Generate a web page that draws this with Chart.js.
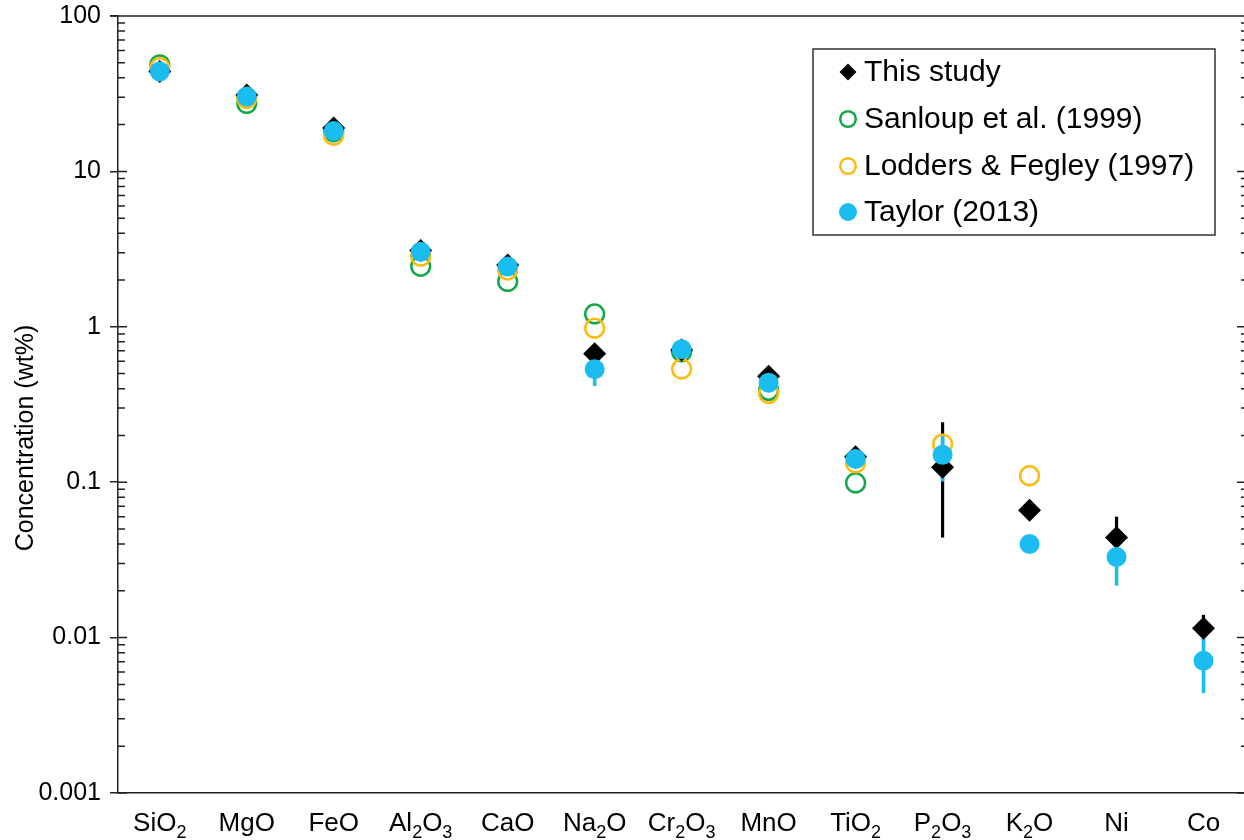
<!DOCTYPE html>
<html>
<head>
<meta charset="utf-8">
<script src="https://cdn.jsdelivr.net/npm/chart.js@4.4.0/dist/chart.umd.min.js"></script>
<style>
  html, body { margin: 0; padding: 0; background: #fff; overflow: hidden; }
  canvas { display: block; }
</style>
</head>
<body>
<canvas id="oxideChart" width="1250" height="840"></canvas>
<script>
// categories (digits are drawn as subscripts)
var oxides = ['SiO2', 'MgO', 'FeO', 'Al2O3', 'CaO', 'Na2O', 'Cr2O3', 'MnO', 'TiO2', 'P2O3', 'K2O', 'Ni', 'Co'];
var yTicks = [0.001, 0.01, 0.1, 1, 10, 100];

// wt%
var thisStudy = [44, 31, 19, 3.1, 2.5, 0.67, 0.71, 0.48, 0.146, 0.125, 0.066, 0.044, 0.0115];
var thisLow   = [null, null, null, null, null, null, null, null, null, 0.044, null, 0.033, 0.0095];
var thisHigh  = [null, null, null, null, null, null, null, null, null, 0.243, null, 0.060, 0.014];
var sanloup   = [48.5, 27.4, 18.0, 2.45, 1.96, 1.21, 0.69, 0.39, 0.099, null, null, null, null];
var lodders   = [46.5, 29.5, 17.1, 2.85, 2.32, 0.98, 0.535, 0.373, 0.133, 0.176, 0.110, null, null];
var taylor    = [44, 30.3, 18.2, 3.04, 2.44, 0.533, 0.717, 0.437, 0.141, 0.150, 0.040, 0.033, 0.0071];
var taylorLow  = [null, null, null, null, null, 0.416, null, null, null, 0.101, null, 0.0216, 0.0044];
var taylorHigh = [null, null, null, null, null, 0.642, null, null, null, 0.201, null, 0.0446, 0.0099];

var FONT = "'Liberation Sans', Arial, sans-serif";
var BLACK = '#000000', GREEN = '#12a84a', ORANGE = '#fdbb0f', BLUE = '#1bbcef';

function pts(arr) {
  var out = [];
  arr.forEach(function(v, i) { if (v != null) out.push({x: i + 1, y: v}); });
  return out;
}

// error bars under the markers
var errorBars = {
  id: 'errorBars',
  beforeDatasetsDraw: function(chart) {
    var ctx = chart.ctx, xs = chart.scales.x, ys = chart.scales.y;
    var sets = [[thisLow, thisHigh, BLACK, 3.2], [taylorLow, taylorHigh, BLUE, 3.6]];
    ctx.save();
    sets.forEach(function(s) {
      ctx.strokeStyle = s[2];
      ctx.lineWidth = s[3];
      s[0].forEach(function(lo, i) {
        if (lo == null) return;
        var x = xs.getPixelForValue(i + 1);
        ctx.beginPath();
        ctx.moveTo(x, ys.getPixelForValue(lo));
        ctx.lineTo(x, ys.getPixelForValue(s[1][i]));
        ctx.stroke();
      });
    });
    ctx.restore();
  }
};

// minor ticks, frame, subscripted labels, y title, legend box
var decor = {
  id: 'decor',
  afterDraw: function(chart) {
    var ctx = chart.ctx, xs = chart.scales.x, ys = chart.scales.y, a = chart.chartArea;
    ctx.save();
    ctx.strokeStyle = '#222';
    ctx.lineWidth = 1.5;
    ctx.beginPath();
    ctx.moveTo(a.left - 8, a.top); ctx.lineTo(a.right, a.top);
    ctx.moveTo(a.right, a.top); ctx.lineTo(a.right, a.bottom);
    for (var d = -3; d <= 2; d++) {
      var y = ys.getPixelForValue(Math.pow(10, d));
      ctx.moveTo(a.left, y); ctx.lineTo(a.left + 9, y);
      ctx.moveTo(a.right - 10, y); ctx.lineTo(a.right, y);
      if (d == 2) break;
      for (var m = 2; m <= 9; m++) {
        var ym = ys.getPixelForValue(m * Math.pow(10, d));
        ctx.moveTo(a.left, ym); ctx.lineTo(a.left + 7, ym);
        ctx.moveTo(a.right - 6, ym); ctx.lineTo(a.right, ym);
      }
    }
    ctx.stroke();

    // x category labels with subscripts
    ctx.fillStyle = '#000';
    ctx.textBaseline = 'alphabetic';
    oxides.forEach(function(lab, i) {
      var parts = lab.match(/[A-Za-z]+|\d+/g);
      var w = 0;
      parts.forEach(function(p) {
        ctx.font = (/\d/.test(p) ? '18px ' : '26px ') + FONT;
        w += ctx.measureText(p).width;
      });
      var x = xs.getPixelForValue(i + 1) - w / 2;
      parts.forEach(function(p) {
        var sub = /\d/.test(p);
        ctx.font = (sub ? '18px ' : '26px ') + FONT;
        ctx.fillText(p, x, a.bottom + (sub ? 45 : 38));
        x += ctx.measureText(p).width;
      });
    });
    ctx.restore();

    // y title
    ctx.save();
    ctx.translate(26, 438);
    ctx.rotate(-Math.PI / 2);
    ctx.font = '25px ' + FONT;
    ctx.fillStyle = '#000';
    ctx.textAlign = 'center';
    ctx.textBaseline = 'middle';
    ctx.fillText('Concentration (wt%)', 0, 0);
    ctx.restore();

    // legend
    ctx.save();
    ctx.strokeStyle = '#333';
    ctx.lineWidth = 1.5;
    ctx.strokeRect(813, 49, 402, 186);
    var items = [
      ['This study', 'diamond', BLACK],
      ['Sanloup et al. (1999)', 'ring', GREEN],
      ['Lodders & Fegley (1997)', 'ring', ORANGE],
      ['Taylor (2013)', 'dot', BLUE]
    ];
    var rowY = [72, 119, 166, 212];
    items.forEach(function(it, i) {
      var cx = 848, cy = rowY[i];
      ctx.beginPath();
      if (it[1] == 'diamond') {
        ctx.moveTo(cx - 8.5, cy); ctx.lineTo(cx, cy - 8.5); ctx.lineTo(cx + 8.5, cy); ctx.lineTo(cx, cy + 8.5);
        ctx.closePath();
        ctx.fillStyle = it[2]; ctx.fill();
      } else if (it[1] == 'ring') {
        ctx.arc(cx, cy, 7.8, 0, Math.PI * 2);
        ctx.strokeStyle = it[2]; ctx.lineWidth = 2.5; ctx.stroke();
      } else {
        ctx.arc(cx, cy, 9, 0, Math.PI * 2);
        ctx.fillStyle = it[2]; ctx.fill();
      }
      ctx.font = '30px ' + FONT;
      ctx.fillStyle = '#000';
      ctx.textBaseline = 'middle';
      ctx.fillText(it[0], 864, cy + 1);
    });
    ctx.restore();
  }
};

new Chart(document.getElementById('oxideChart'), {
  type: 'scatter',
  data: {
    datasets: [
      { label: 'Taylor (2013)', data: pts(taylor), order: 0,
        pointStyle: 'circle', pointRadius: 10, pointBorderWidth: 0,
        backgroundColor: BLUE, borderColor: BLUE },
      { label: 'This study', data: pts(thisStudy), order: 1,
        pointStyle: 'rectRot', pointRadius: 11.5, pointBorderWidth: 0,
        backgroundColor: BLACK, borderColor: BLACK },
      { label: 'Lodders & Fegley (1997)', data: pts(lodders), order: 2,
        pointStyle: 'circle', pointRadius: 9.4, pointBorderWidth: 2.5,
        backgroundColor: 'rgba(0,0,0,0)', borderColor: ORANGE },
      { label: 'Sanloup et al. (1999)', data: pts(sanloup), order: 3,
        pointStyle: 'circle', pointRadius: 9.4, pointBorderWidth: 2.5,
        backgroundColor: 'rgba(0,0,0,0)', borderColor: GREEN }
    ]
  },
  options: {
    responsive: false,
    animation: false,
    devicePixelRatio: 1,
    layout: { autoPadding: false, padding: { top: 16, right: 3, left: 0, bottom: 0 } },
    plugins: { legend: { display: false }, tooltip: { enabled: false } },
    scales: {
      x: {
        type: 'linear', min: 0.52, max: 13.5,
        ticks: { display: false },
        grid: { display: false },
        border: { display: true, color: '#222', width: 1.5 },
        afterFit: function(s) { s.height = 47; s.paddingLeft = 0; s.paddingRight = 0; }
      },
      y: {
        type: 'logarithmic', min: 0.001, max: 100,
        afterBuildTicks: function(s) { s.ticks = yTicks.map(function(v) { return {value: v}; }); },
        ticks: {
          color: '#000', padding: 9,
          font: { family: FONT, size: 25 },
          callback: function(v) { return String(v); }
        },
        grid: { drawOnChartArea: false, drawTicks: true, tickLength: 8, color: '#222', lineWidth: 1.5 },
        border: { display: true, color: '#222', width: 1.5 },
        afterFit: function(s) { s.width = 118; s.paddingTop = 0; s.paddingBottom = 0; }
      }
    }
  },
  plugins: [errorBars, decor]
});
</script>
</body>
</html>
